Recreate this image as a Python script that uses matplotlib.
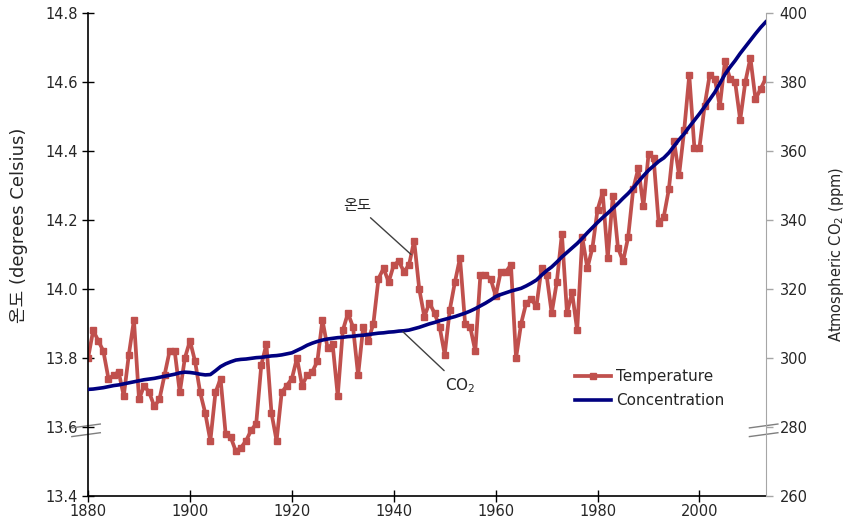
import matplotlib.pyplot as plt
import numpy as np

plt.rcParams['font.family'] = ['DejaVu Sans', 'Noto Sans CJK KR']

years = np.arange(1880, 2014)

# global mean surface temperature (deg C)
temperature = [
    13.80, 13.88, 13.85, 13.82, 13.74, 13.75, 13.76, 13.69, 13.81, 13.91,
    13.68, 13.72, 13.70, 13.66, 13.68, 13.75, 13.82, 13.82, 13.70, 13.80,
    13.85, 13.79, 13.70, 13.64, 13.56, 13.70, 13.74, 13.58, 13.57, 13.53,
    13.54, 13.56, 13.59, 13.61, 13.78, 13.84, 13.64, 13.56, 13.70, 13.72,
    13.74, 13.80, 13.72, 13.75, 13.76, 13.79, 13.91, 13.83, 13.84, 13.69,
    13.88, 13.93, 13.89, 13.75, 13.89, 13.85, 13.90, 14.03, 14.06, 14.02,
    14.07, 14.08, 14.05, 14.07, 14.14, 14.00, 13.92, 13.96, 13.93, 13.89,
    13.81, 13.94, 14.02, 14.09, 13.90, 13.89, 13.82, 14.04, 14.04, 14.03,
    13.98, 14.05, 14.05, 14.07, 13.80, 13.90, 13.96, 13.97, 13.95, 14.06,
    14.04, 13.93, 14.02, 14.16, 13.93, 13.99, 13.88, 14.15, 14.06, 14.12,
    14.23, 14.28, 14.09, 14.27, 14.12, 14.08, 14.15, 14.29, 14.35, 14.24,
    14.39, 14.38, 14.19, 14.21, 14.29, 14.43, 14.33, 14.46, 14.62, 14.41,
    14.41, 14.53, 14.62, 14.61, 14.53, 14.66, 14.61, 14.60, 14.49, 14.60,
    14.67, 14.55, 14.58, 14.61,
]

# atmospheric CO2 concentration (ppm)
co2 = [
    290.9, 291.0, 291.2, 291.4, 291.7, 292.0, 292.2, 292.5, 292.8, 293.1,
    293.4, 293.7, 293.9, 294.1, 294.4, 294.7, 295.0, 295.3, 295.7, 295.9,
    295.8, 295.6, 295.3, 295.1, 295.2, 296.3, 297.5, 298.3, 298.9, 299.4,
    299.6, 299.7, 299.9, 300.1, 300.2, 300.4, 300.6, 300.7, 300.9, 301.2,
    301.5, 302.2, 302.9, 303.7, 304.3, 304.8, 305.2, 305.5, 305.7, 305.9,
    306.0, 306.2, 306.3, 306.5, 306.6, 306.8, 307.0, 307.2, 307.3, 307.5,
    307.6, 307.8, 307.9, 308.1, 308.5, 308.9, 309.4, 309.9, 310.3, 310.8,
    311.2, 311.6, 312.0, 312.5, 313.0, 313.6, 314.3, 315.1, 315.9, 316.8,
    317.8, 318.4, 318.9, 319.4, 319.8, 320.2, 320.9, 321.7, 322.6, 324.0,
    325.3, 326.4, 327.8, 329.3, 330.6, 331.9, 333.2, 334.7, 336.3, 337.8,
    339.3, 340.7, 342.0, 343.4, 344.8, 346.3, 347.7, 349.3, 351.1, 352.8,
    354.4, 355.7, 357.0, 358.0, 359.5, 361.4, 363.3, 365.0, 367.0, 368.9,
    370.8, 372.8, 374.9, 377.0, 379.6, 382.2, 384.3, 386.2, 388.3, 390.2,
    392.1, 394.0, 395.8, 397.4,
]

temp_ticks = [13.4, 13.6, 13.8, 14.0, 14.2, 14.4, 14.6, 14.8]
co2_ticks = [260, 280, 300, 320, 340, 360, 380, 400]
year_ticks = [1880, 1900, 1920, 1940, 1960, 1980, 2000]

red = '#C0504D'
navy = '#000080'
gray = '#A6A6A6'
txt = '#262626'

fig = plt.figure(figsize=(8.47, 5.21), dpi=100)
ax = fig.add_axes([0.104, 0.048, 0.800, 0.927])
ax2 = ax.twinx()

l1, = ax.plot(years, temperature, color=red, lw=2.7, marker='s', ms=3.8,
              label='Temperature', zorder=2)
l2, = ax2.plot(years, co2, color=navy, lw=2.6, label='Concentration', zorder=3)

ax.set_xlim(1880, 2013)
ax.set_ylim(13.4, 14.8)
ax2.set_ylim(260, 400)

ax.set_xticks(year_ticks)
ax.set_yticks(temp_ticks)
ax.set_yticklabels([f'{t:.1f}' for t in temp_ticks])
ax2.set_yticks(co2_ticks)

ax.tick_params(axis='both', direction='inout', length=8, width=1, colors='black',
               labelsize=10.5, labelcolor=txt)
ax.tick_params(axis='x', pad=2)
ax2.tick_params(axis='y', direction='out', length=5, width=1, color=gray,
                labelsize=10.5, labelcolor=txt, pad=5)

for a in (ax, ax2):
    a.spines['top'].set_visible(False)
ax.spines['right'].set_visible(False)
ax2.spines['left'].set_visible(False)
ax2.spines['bottom'].set_visible(False)
ax2.spines['right'].set_color(gray)
ax.spines['left'].set_linewidth(1.2)
ax.spines['bottom'].set_linewidth(1.2)

ax.set_ylabel('온도 (degrees Celsius)', fontsize=13, color=txt)
ax.yaxis.set_label_coords(-0.0885, 0.56)
ax2.set_ylabel('Atmospheric CO$_2$ (ppm)', fontsize=10.5, color=txt)
ax2.yaxis.set_label_coords(1.091, 0.50)

# axis break marks
for a, x0 in ((ax, 0.0), (ax2, 1.0)):
    for dy in (0.0, -0.018):
        a.plot([x0 - 0.024, x0 + 0.018], [0.141 + dy, 0.149 + dy],
               transform=a.transAxes, color='#7F7F7F', lw=1.0, clip_on=False)

# callouts
ax.annotate('온도', xy=(1943.4, 14.10), xytext=(1932.8, 14.22),
            fontsize=11, color=txt, ha='center', va='bottom',
            arrowprops=dict(arrowstyle='-', color='#404040', lw=1.0,
                            shrinkA=2, shrinkB=0))
ax2.annotate('CO$_2$', xy=(1941.8, 307.6), xytext=(1953.0, 292.0),
             fontsize=11, color=txt, ha='center', va='center',
             arrowprops=dict(arrowstyle='-', color='#404040', lw=1.0,
                             shrinkA=3, shrinkB=0))

ax2.legend([l1, l2], ['Temperature', 'Concentration'], loc='upper left',
           bbox_to_anchor=(0.718, 0.262), borderaxespad=0, borderpad=0,
           frameon=False, fontsize=11, handlelength=2.4, handletextpad=0.3,
           labelspacing=0.55, labelcolor=txt)

fig.savefig('out.png', dpi=100)
